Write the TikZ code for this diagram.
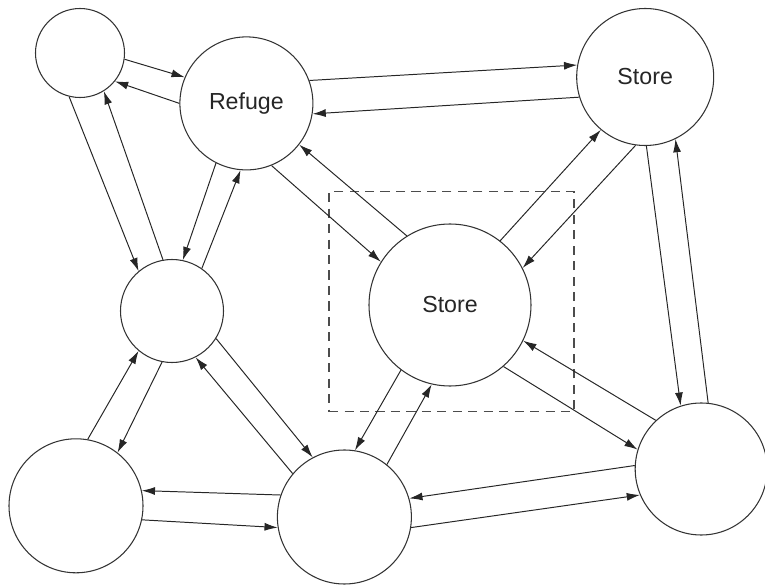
\documentclass[tikz,border=0pt]{standalone}
\usepackage{fontspec}
\setmainfont{Liberation Sans}
\usetikzlibrary{arrows.meta,shapes,positioning}

\begin{document}
\begin{tikzpicture}
        [
            site/.style={circle, draw=black!80, line width=0.75pt, inner sep=0pt,
                font=\fontsize{16.5}{20}\selectfont, text=black!85},
            zone/.style={rectangle, draw=black!70, dash pattern=on 6.5pt off 4.5pt,
                line width=0.9pt, minimum width=6.125cm, minimum height=5.5cm},
            link/.style={-{Latex[length=3.3mm,width=2mm]}, line width=0.7pt, draw=black!85},
        ]
            \useasboundingbox (0,0) rectangle (19.125,14.625);

            \node[zone] (Z) at (11.29, 7.08) {};

            \node[site, minimum size=2.225cm] (N1) at (2.00, 13.30) {};
            \node[site, minimum size=3.325cm] (Ref) at (6.16, 12.04) {Refuge};
            \node[site, minimum size=3.425cm] (S1) at (16.13, 12.70) {Store};
            \node[site, minimum size=2.575cm] (N2) at (4.30, 6.85) {};
            \node[site, minimum size=4.05cm] (S2) at (11.25, 7.00) {Store};
            \node[site, minimum size=3.35cm] (N3) at (1.90, 1.98) {};
            \node[site, minimum size=3.35cm] (N4) at (8.61, 1.70) {};
            \node[site, minimum size=3.3cm] (N5) at (17.53, 2.90) {};

            \draw[link] (N1.-8) -- (Ref.157);
            \draw[link] (Ref.180) -- (N1.-39);
            \draw[link] (N1.-104) -- (N2.130);
            \draw[link] (N2.100) -- (N1.-58);
            \draw[link] (Ref.-117) -- (N2.78);
            \draw[link] (N2.55) -- (Ref.-95);
            \draw[link] (Ref.20) -- (S1.170);
            \draw[link] (S1.-163) -- (Ref.-9);
            \draw[link] (Ref.-68) -- (S2.148);
            \draw[link] (S2.122) -- (Ref.-38);
            \draw[link] (S2.52) -- (S1.-130);
            \draw[link] (S1.-98) -- (S2.27);
            \draw[link] (S1.-89) -- (N5.108);
            \draw[link] (N5.84) -- (S1.-64);
            \draw[link] (N5.133) -- (S2.-26);
            \draw[link] (S2.-49) -- (N5.163);
            \draw[link] (S2.-127) -- (N4.81);
            \draw[link] (N4.51) -- (S2.-103);
            \draw[link] (N5.177) -- (N4.16);
            \draw[link] (N4.-9) -- (N5.-157);
            \draw[link] (N4.161) -- (N3.13);
            \draw[link] (N3.-12) -- (N4.-171);
            \draw[link] (N3.80) -- (N2.-130);
            \draw[link] (N2.-101) -- (N3.52);
            \draw[link] (N4.140) -- (N2.-63);
            \draw[link] (N2.-32) -- (N4.118);
        \end{tikzpicture}
\end{document}
